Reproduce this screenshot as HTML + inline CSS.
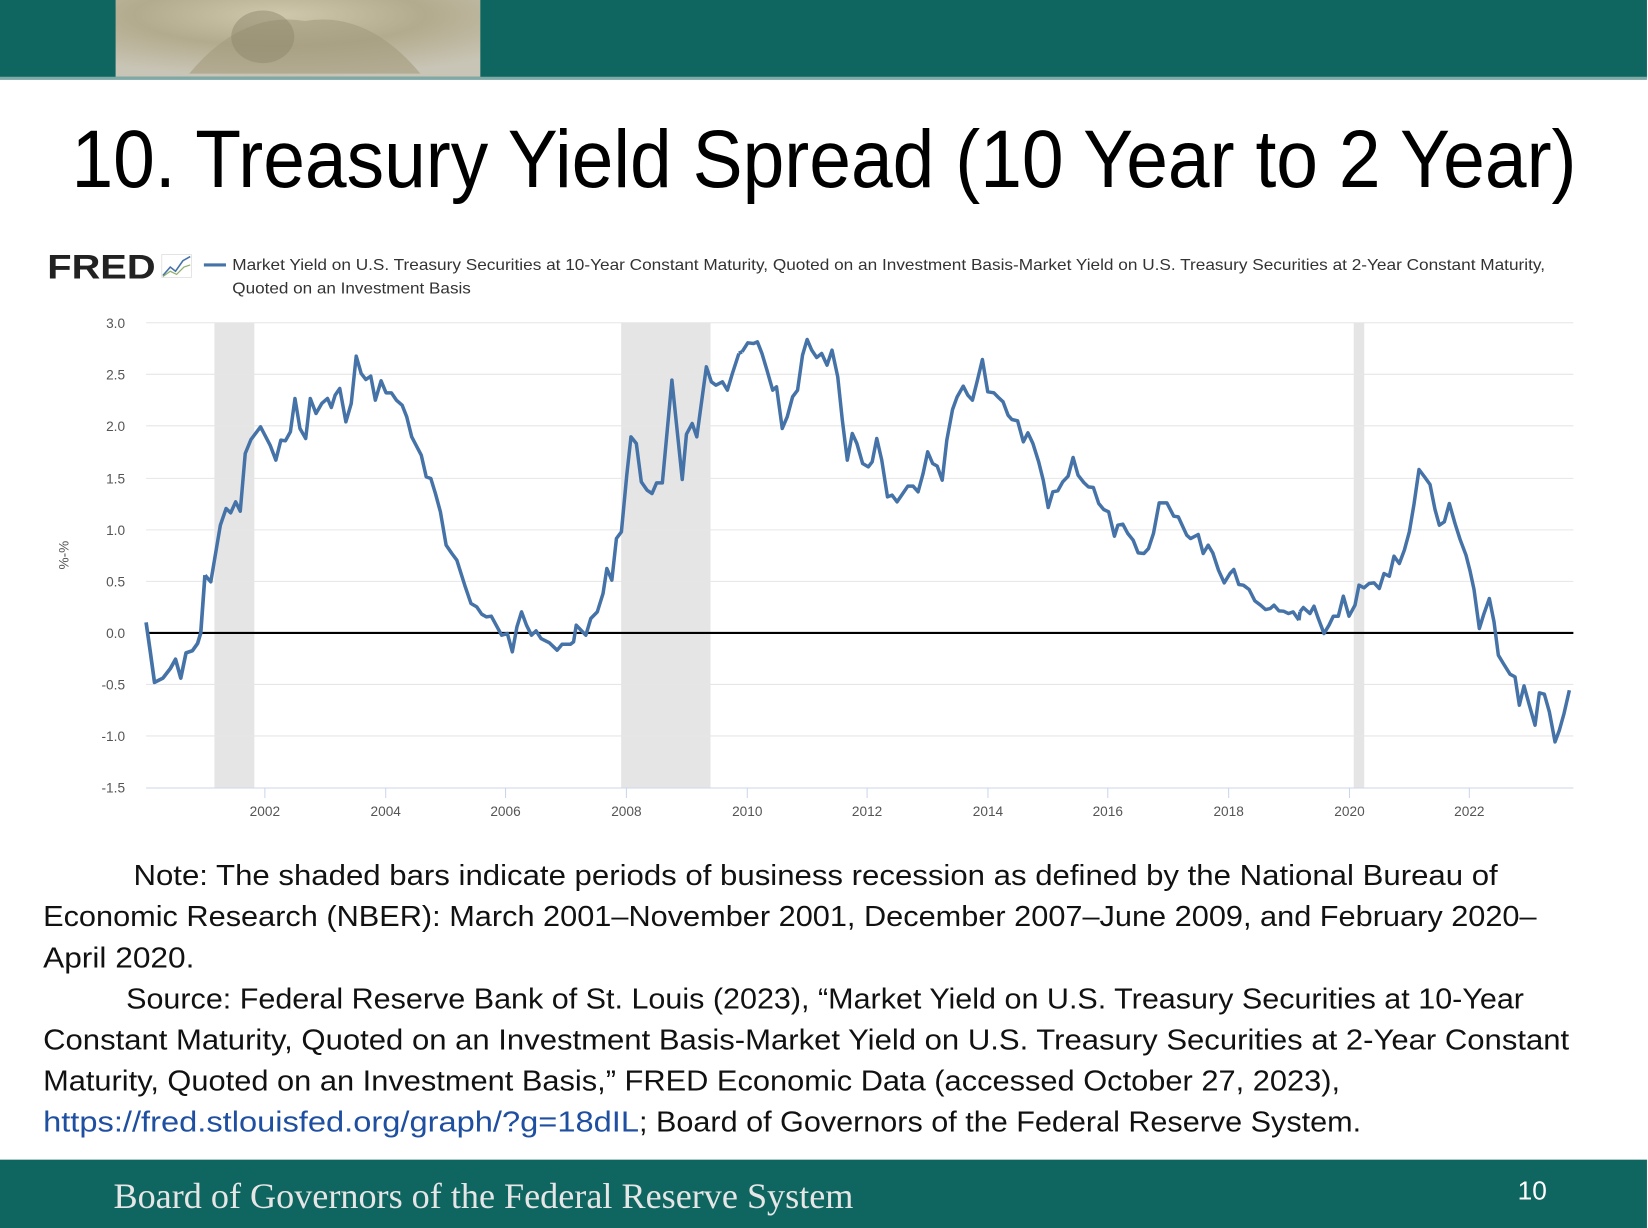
<!DOCTYPE html>
<html><head><meta charset="utf-8"><style>
html,body{margin:0;padding:0;background:#fff;}
svg{display:block;}
</style></head><body>
<svg width="1648" height="1228" viewBox="0 0 1568 1168" preserveAspectRatio="none" xmlns="http://www.w3.org/2000/svg">
<defs>
<radialGradient id="eg" cx="0.45" cy="0.2" r="0.8">
<stop offset="0" stop-color="#cfc8ac"/><stop offset="0.5" stop-color="#b3ab8d"/><stop offset="1" stop-color="#c9c5b6"/>
</radialGradient>
</defs>
<rect x="0" y="0" width="1568" height="1168" fill="#fff"/>
<rect x="0" y="0" width="1567" height="74" fill="#0f6661"/>
<rect x="0" y="73" width="1567" height="3" fill="#7fa9a6"/>
<rect x="110" y="0" width="347" height="73" fill="url(#eg)"/>
<path d="M180 70 Q230 10 290 20 Q350 10 400 70 Z" fill="#a39b7d" opacity="0.6"/>
<ellipse cx="250" cy="35" rx="30" ry="25" fill="#8f876b" opacity="0.5"/>

<text x="68" y="178" font-family="'Liberation Sans',sans-serif" font-size="78" fill="#000" textLength="1432" lengthAdjust="spacingAndGlyphs">10. Treasury Yield Spread (10 Year to 2 Year)</text>

<!-- FRED legend -->
<text x="45" y="265" font-family="'Liberation Sans',sans-serif" font-weight="bold" font-size="33" fill="#222" textLength="103" lengthAdjust="spacingAndGlyphs">FRED</text>
<rect x="154" y="242" width="28" height="22" fill="#fff" stroke="#ccc" stroke-width="0.5"/>
<polyline points="155,262 162,254 167,258 174,248 181,244" fill="none" stroke="#4572a7" stroke-width="1.5"/>
<polyline points="155,263 162,258 168,261 175,254 181,252" fill="none" stroke="#8fb06a" stroke-width="1.2"/>
<line x1="194" y1="252" x2="215" y2="252" stroke="#4572a7" stroke-width="3"/>
<text x="221" y="257" font-family="'Liberation Sans',sans-serif" font-size="15" fill="#333" textLength="1249" lengthAdjust="spacingAndGlyphs">Market Yield on U.S. Treasury Securities at 10-Year Constant Maturity, Quoted on an Investment Basis-Market Yield on U.S. Treasury Securities at 2-Year Constant Maturity,</text>
<text x="221" y="279" font-family="'Liberation Sans',sans-serif" font-size="15" fill="#333" textLength="227" lengthAdjust="spacingAndGlyphs">Quoted on an Investment Basis</text>

<!-- recessions -->
<rect x="204" y="307" width="38" height="442" fill="#e5e5e5"/>
<rect x="591" y="307" width="85" height="442" fill="#e5e5e5"/>
<rect x="1288" y="307" width="10" height="442" fill="#e5e5e5"/>

<!-- grid -->
<g stroke="#e6e6e6" stroke-width="1">
<line x1="139" y1="307" x2="1497" y2="307"/>
<line x1="139" y1="356" x2="1497" y2="356"/>
<line x1="139" y1="405" x2="1497" y2="405"/>
<line x1="139" y1="455" x2="1497" y2="455"/>
<line x1="139" y1="504" x2="1497" y2="504"/>
<line x1="139" y1="553" x2="1497" y2="553"/>
<line x1="139" y1="651" x2="1497" y2="651"/>
<line x1="139" y1="700" x2="1497" y2="700"/>
</g>
<line x1="139" y1="749.5" x2="1497" y2="749.5" stroke="#ccd6eb" stroke-width="1"/>
<g stroke="#ccd6eb" stroke-width="1">
<line x1="252" y1="749" x2="252" y2="759"/><line x1="367" y1="749" x2="367" y2="759"/><line x1="481" y1="749" x2="481" y2="759"/><line x1="596" y1="749" x2="596" y2="759"/><line x1="711" y1="749" x2="711" y2="759"/><line x1="825" y1="749" x2="825" y2="759"/><line x1="940" y1="749" x2="940" y2="759"/><line x1="1054" y1="749" x2="1054" y2="759"/><line x1="1169" y1="749" x2="1169" y2="759"/><line x1="1284" y1="749" x2="1284" y2="759"/><line x1="1398" y1="749" x2="1398" y2="759"/>
</g>
<line x1="139" y1="602" x2="1497" y2="602" stroke="#000" stroke-width="2"/>

<g font-family="'Liberation Sans',sans-serif" font-size="13" fill="#555" text-anchor="end">
<text x="119" y="312">3.0</text><text x="119" y="361">2.5</text><text x="119" y="410">2.0</text><text x="119" y="460">1.5</text><text x="119" y="509">1.0</text><text x="119" y="558">0.5</text><text x="119" y="607">0.0</text><text x="119" y="656">-0.5</text><text x="119" y="705">-1.0</text><text x="119" y="754">-1.5</text>
</g>
<text transform="translate(65,528) rotate(-90)" font-family="'Liberation Sans',sans-serif" font-size="13" fill="#555" text-anchor="middle">%-%</text>
<g font-family="'Liberation Sans',sans-serif" font-size="13" fill="#555" text-anchor="middle">
<text x="252" y="776">2002</text><text x="367" y="776">2004</text><text x="481" y="776">2006</text><text x="596" y="776">2008</text><text x="711" y="776">2010</text><text x="825" y="776">2012</text><text x="940" y="776">2014</text><text x="1054" y="776">2016</text><text x="1169" y="776">2018</text><text x="1284" y="776">2020</text><text x="1398" y="776">2022</text>
</g>

<!-- series -->
<polyline fill="none" stroke="#4572a7" stroke-width="3.5" stroke-linejoin="round" points="139,592 143,620 147,649 155,645 162,636 167,627 172,645 177,621 183,619 188,612 191,602 195,547"/>
<g transform="translate(133.2,304.5) scale(0.3641,0.3171)">
<polyline fill="none" stroke="#4572a7" stroke-width="3.5" stroke-linejoin="round" vector-effect="non-scaling-stroke" points="170,765 185,785 210,615 225,565 237,578 250,545 262,573 275,400 290,358 315,320 340,375 355,420 368,360 380,362 393,335 405,235 418,325 433,355 445,235 460,280 475,250 490,235 500,262 510,225 522,205 538,305 552,250 565,108 578,160 590,178 603,168 615,240 630,182 643,218 657,218 670,240 685,255 697,290 710,350 735,405 748,470 760,475 772,520 785,575 800,675 815,700 828,720 850,800 865,850 880,860 893,882 905,890 918,888 945,945 960,940 973,995 985,920 997,875 1010,915 1023,945 1035,932 1048,955 1070,968 1090,990 1103,972 1125,972 1133,965 1140,915 1165,945 1178,895 1195,875 1210,820 1220,745 1233,780 1245,655 1258,635 1272,465 1283,350 1297,370 1310,485 1325,510 1338,520 1350,488 1365,488 1390,180 1417,478 1428,342 1443,310 1455,350 1480,140 1493,185 1505,195 1522,185 1535,210 1548,160 1565,100"/>
</g>
<polyline fill="none" stroke="#4572a7" stroke-width="3.5" stroke-linejoin="round" points="703,336 706,334.6"/>
<g transform="translate(666,304.5) scale(0.3641,0.3171)">
<polyline fill="none" stroke="#4572a7" stroke-width="3.5" stroke-linejoin="round" vector-effect="non-scaling-stroke" points="110,95 125,68 140,70 150,65 162,100 175,150 190,210 200,200 215,325 228,290 242,230 255,210 268,105 280,58 292,90 305,112 318,100 332,135 345,90 360,170 372,300 385,420 398,340 410,370 425,430 440,440 450,425 462,355 475,420 490,530 502,525 515,545 530,520 543,498 557,498 570,515 583,460 595,395 608,430 620,438 633,480 645,360 660,268 672,230 688,198 700,225 712,240 725,180 738,118 752,215 768,218 780,232 792,245 805,285 815,298 830,302 845,365 857,338 870,370 885,425 897,480 910,562 922,515 935,512 948,485 962,468 975,412 988,465 1003,487 1015,500 1028,502 1042,550 1055,568 1068,575 1083,648 1092,615 1105,612 1118,640 1132,660 1145,698 1160,700 1172,685 1185,640 1200,548 1220,548 1238,588 1250,590 1272,645 1282,655 1302,643 1315,700 1328,675 1340,698 1355,750 1370,788 1385,760 1395,748 1408,793 1420,795 1435,808 1450,842 1465,855 1478,868 1490,865 1500,855 1513,872 1525,873 1538,880 1550,875 1565,900"/>
</g>
<polyline fill="none" stroke="#4572a7" stroke-width="3.5" stroke-linejoin="round" points="1235.8,589.9 1236.9,582"/>
<g transform="translate(1189.3,304.5) scale(0.3172,0.3171)">
<polyline fill="none" stroke="#4572a7" stroke-width="3.5" stroke-linejoin="round" vector-effect="non-scaling-stroke" points="150,875 160,862 172,873 180,880 192,858 205,895 222,940 237,915 250,888 265,888 280,828 297,888 315,855 327,795 342,803 357,790 372,788 388,805 402,760 418,768 432,708 448,730 463,690 478,635 492,552 507,448 525,472 540,493 555,568 568,615 583,605 598,550 615,610 630,657 648,705 660,752 672,808 688,925 702,880 718,835 732,905 745,1005 760,1030 780,1062 795,1070 808,1155 822,1097 838,1155 855,1215 868,1118 883,1122 898,1175 915,1265 928,1230 942,1180 958,1110"/>
</g>

<!-- notes -->
<g font-family="'Liberation Sans',sans-serif" font-size="27" fill="#111">
<text x="127" y="842" textLength="1298" lengthAdjust="spacingAndGlyphs">Note: The shaded bars indicate periods of business recession as defined by the National Bureau of</text>
<text x="41" y="881" textLength="1421" lengthAdjust="spacingAndGlyphs">Economic Research (NBER): March 2001–November 2001, December 2007–June 2009, and February 2020–</text>
<text x="41" y="920" textLength="144" lengthAdjust="spacingAndGlyphs">April 2020.</text>
<text x="120" y="959" textLength="1330" lengthAdjust="spacingAndGlyphs">Source: Federal Reserve Bank of St. Louis (2023), “Market Yield on U.S. Treasury Securities at 10-Year</text>
<text x="41" y="998" textLength="1452" lengthAdjust="spacingAndGlyphs">Constant Maturity, Quoted on an Investment Basis-Market Yield on U.S. Treasury Securities at 2-Year Constant</text>
<text x="41" y="1037" textLength="1234" lengthAdjust="spacingAndGlyphs">Maturity, Quoted on an Investment Basis,” FRED Economic Data (accessed October 27, 2023),</text>
<text x="41" y="1076" textLength="567" lengthAdjust="spacingAndGlyphs" fill="#1f4fa0">https://fred.stlouisfed.org/graph/?g=18dIL</text>
<text x="608" y="1076" textLength="687" lengthAdjust="spacingAndGlyphs">; Board of Governors of the Federal Reserve System.</text>
</g>

<!-- footer -->
<rect x="0" y="1103" width="1567" height="65" fill="#0f6661"/>
<text x="108" y="1149" font-family="'Liberation Serif',serif" font-size="34" fill="#e6e6e6" textLength="704" lengthAdjust="spacingAndGlyphs">Board of Governors of the Federal Reserve System</text>
<text x="1444" y="1141" font-family="'Liberation Sans',sans-serif" font-size="25" fill="#fff">10</text>
</svg>
</body></html>
